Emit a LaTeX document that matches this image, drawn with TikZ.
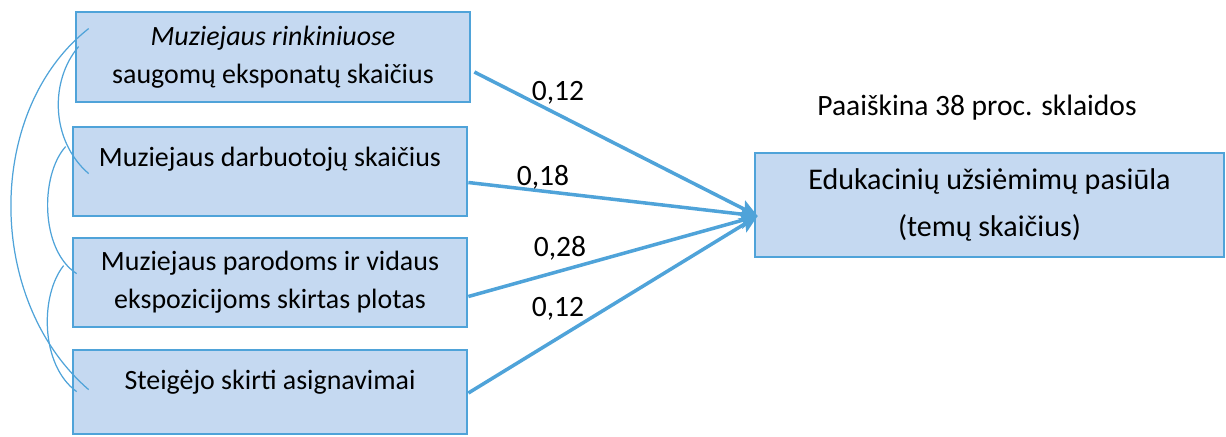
\documentclass[tikz,border=0pt]{standalone}
\usepackage{fontspec}
\setmainfont{Carlito}
\usetikzlibrary{arrows.meta,calc}

\definecolor{boxfill}{RGB}{197,217,241}
\definecolor{boxline}{RGB}{79,163,217}

\begin{document}
\begin{tikzpicture}[x=0.02cm, y=-0.02cm,
    factor/.style={draw=boxline, fill=boxfill, line width=1.6pt, align=center,
        minimum width=7.88cm, inner sep=0pt, font=\fontsize{15.9pt}{21.5pt}\selectfont},
    effect/.style={draw=boxline, fill=boxfill, line width=1.6pt, align=center,
        minimum width=9.38cm, minimum height=2.08cm, inner sep=0pt,
        font=\fontsize{17.1pt}{26.7pt}\selectfont},
    coef/.style={font=\fontsize{16.8pt}{20pt}\selectfont, inner sep=0pt},
    effarrow/.style={draw=boxline, line width=2pt, -{Stealth[length=0.36cm, width=0.32cm, inset=0.07cm]}},
    corr/.style={draw=boxline, line width=0.7pt}]
\path[use as bounding box] (0,0) rectangle (1226,436);
% kintamieji
\node[factor, minimum height=1.8cm] (m1) at (273,57) {\textit{Muziejaus rinkiniuose}\\ saugomų eksponatų skaičius};
\node[factor, minimum height=1.78cm] (m2) at (270,171.5) {Muziejaus darbuotojų skaičius\\[-4.5pt] \mbox{}};
\node[factor, minimum height=1.78cm] (m3) at (270,282.5) {Muziejaus parodoms ir vidaus\\ ekspozicijoms skirtas plotas};
\node[factor, minimum height=1.68cm] (m4) at (270,392) {Steigėjo skirti asignavimai\\[-8pt] \mbox{}};
\node[effect] (out) at (989.5,205) {Edukacinių užsiėmimų pasiūla\\ (temų skaičius)};
\node[coef] (r2) at (977,108) {Paaiškina 38 proc. sklaidos};
\coordinate (tip) at ($(out.west)+(4,11)$);
% ryšiai
\draw[effarrow] ($(m1.east)+(3,15)$) -- (tip);
\draw[effarrow] ($(m2.east)+(0,11)$) -- (tip);
\draw[effarrow] ($(m3.east)+(0,14)$) -- (tip);
\draw[effarrow] ($(m4.east)+(0,1)$) -- (tip);
\node[coef] (k1) at (558,93) {0,12};
\node[coef] (k2) at (543,177) {0,18};
\node[coef] (k3) at (560,248) {0,28};
\node[coef] (k4) at (558,309) {0,12};
% koreliacijos
\draw[corr] ($(m1.north west)+(14,18)$) .. controls (-15,110) and (-15,300) .. ($(m4.north west)+(17,41)$);
\draw[corr] ($(m1.north west)+(4,36)$) .. controls (50,80) and (50,140) .. ($(m2.north west)+(17,48)$);
\draw[corr] ($(m2.north west)+(-6,21)$) .. controls (40,175) and (40,250) .. ($(m3.north west)+(5,37)$);
\draw[corr] ($(m3.north west)+(-8,29)$) .. controls (40,295) and (40,365) .. ($(m4.north west)+(5,43)$);
\end{tikzpicture}
\end{document}
